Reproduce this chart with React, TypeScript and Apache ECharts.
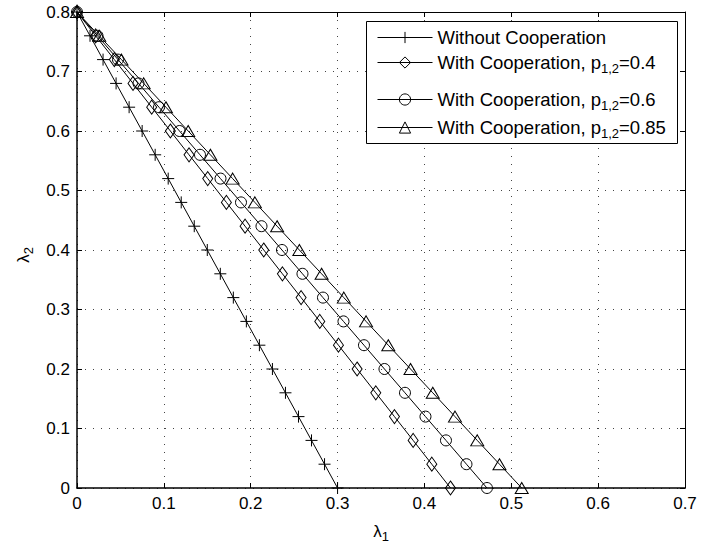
import React, { useEffect, useRef } from "react";
import * as echarts from "echarts";

const lambda2 = [0.8, 0.76, 0.72, 0.68, 0.64, 0.6, 0.56, 0.52, 0.48, 0.44, 0.4, 0.36, 0.32, 0.28, 0.24, 0.2, 0.16, 0.12, 0.08, 0.04, 0];
const withoutCoop = [0, 0.015, 0.03, 0.045, 0.06, 0.075, 0.09, 0.105, 0.12, 0.135, 0.15, 0.165, 0.18, 0.195, 0.21, 0.225, 0.24, 0.255, 0.27, 0.285, 0.3];
const coop04 = [0, 0.0215, 0.043, 0.0645, 0.086, 0.1075, 0.129, 0.1505, 0.172, 0.1935, 0.215, 0.2365, 0.258, 0.2795, 0.301, 0.3225, 0.344, 0.3655, 0.387, 0.4085, 0.43];
const coop06 = [0, 0.0236, 0.0472, 0.0708, 0.0944, 0.118, 0.1416, 0.1652, 0.1888, 0.2124, 0.236, 0.2596, 0.2832, 0.3068, 0.3304, 0.354, 0.3776, 0.4012, 0.4248, 0.4484, 0.472];
const coop085 = [0, 0.0256, 0.0512, 0.0768, 0.1024, 0.128, 0.1536, 0.1792, 0.2048, 0.2304, 0.256, 0.2816, 0.3072, 0.3328, 0.3584, 0.384, 0.4096, 0.4352, 0.4608, 0.4864, 0.512];

const seriesNames = [
  "Without Cooperation",
  "With Cooperation, p{sub|1,2}=0.4",
  "With Cooperation, p{sub|1,2}=0.6",
  "With Cooperation, p{sub|1,2}=0.85",
];
const xTicks = [0, 0.1, 0.2, 0.3, 0.4, 0.5, 0.6, 0.7];
const yTicks = [0, 0.1, 0.2, 0.3, 0.4, 0.5, 0.6, 0.7, 0.8];

const FONT = "Liberation Sans, Arial, Helvetica, sans-serif";
const FS = 17;

const plusPath = "path://M0,6H12M6,0V12";

export default function App() {
  const ref = useRef<HTMLDivElement>(null);
  useEffect(() => {
    if (!ref.current) return;
    const chart = echarts.init(ref.current, null, { renderer: "svg" });
    const zip = (xs: number[]) => xs.map((x, i) => [x, lambda2[i]]);
    const symbols: any[] = [plusPath, "diamond", "circle", "triangle"];
    const sizes: any[] = [[12, 12], [10, 14], [11, 11], [13, 11]];
    const datas = [withoutCoop, coop04, coop06, coop085];
    const rich = {
      sub: { fontSize: 13, fontFamily: FONT, color: "#000", padding: [11, 0, 0, 0] },
    };
    const legendTops = [28, 53, 90, 118];
    const option: any = {
      animation: false,
      backgroundColor: "#fff",
      grid: { left: 77, right: 16, top: 12, bottom: 56, containLabel: false },
      xAxis: [
        {
          type: "value",
          min: xTicks[0],
          max: xTicks[xTicks.length - 1],
          interval: 0.1,
          position: "bottom",
          name: "λ{sub|1}",
          nameLocation: "middle",
          nameGap: 31,
          nameTextStyle: { fontFamily: FONT, fontSize: FS, color: "#000", rich },
          axisLine: { show: true, lineStyle: { color: "#000", width: 1.5 } },
          axisTick: { show: true, inside: true, length: 5, lineStyle: { color: "#000" } },
          axisLabel: { fontFamily: FONT, fontSize: FS, color: "#000", margin: 7 },
          splitLine: { show: true, lineStyle: { type: [1, 7], color: "#444", width: 1 } },
        },
        {
          type: "value",
          min: xTicks[0],
          max: xTicks[xTicks.length - 1],
          interval: 0.1,
          position: "top",
          axisLine: { show: true, onZero: false, lineStyle: { color: "#000", width: 1 } },
          axisTick: { show: true, inside: true, length: 5, lineStyle: { color: "#000" } },
          axisLabel: { show: false },
          splitLine: { show: false },
        },
      ],
      yAxis: [
        {
          type: "value",
          min: yTicks[0],
          max: yTicks[yTicks.length - 1],
          interval: 0.1,
          position: "left",
          name: "λ{sub|2}",
          nameLocation: "middle",
          nameGap: 42,
          nameRotate: 90,
          nameTextStyle: { fontFamily: FONT, fontSize: FS, color: "#000", rich, padding: [0, 10, 0, 0] },
          axisLine: { show: true, lineStyle: { color: "#000", width: 1.5 } },
          axisTick: { show: true, inside: true, length: 5, lineStyle: { color: "#000" } },
          axisLabel: { fontFamily: FONT, fontSize: FS, color: "#000", margin: 7 },
          splitLine: { show: true, lineStyle: { type: [1, 7], color: "#444", width: 1 } },
        },
        {
          type: "value",
          min: yTicks[0],
          max: yTicks[yTicks.length - 1],
          interval: 0.1,
          position: "right",
          axisLine: { show: true, onZero: false, lineStyle: { color: "#000", width: 1 } },
          axisTick: { show: true, inside: true, length: 5, lineStyle: { color: "#000" } },
          axisLabel: { show: false },
          splitLine: { show: false },
        },
      ],
      legend: seriesNames.map((n, i) => ({
        data: [n],
        orient: "vertical",
        left: 377,
        top: legendTops[i],
        padding: 0,
        itemWidth: 55,
        itemHeight: 14,
        selectedMode: false,
        lineStyle: { width: 1, color: "#000" },
        itemStyle: { color: "rgba(0,0,0,0)", borderColor: "#000", borderWidth: 1 },
        textStyle: { fontFamily: FONT, fontSize: 18.5, color: "#000", rich },
      })),
      graphic: [
        {
          type: "rect",
          z: 3,
          shape: { x: 366.5, y: 21.5, width: 311, height: 122 },
          style: { fill: "#fff", stroke: "#000", lineWidth: 1 },
        },
      ],
      series: datas.map((d, i) => ({
        type: "line",
        name: seriesNames[i],
        data: zip(d),
        xAxisIndex: 0,
        yAxisIndex: 0,
        clip: false,
        symbol: symbols[i],
        symbolSize: sizes[i],
        showAllSymbol: true,
        lineStyle: { color: "#000", width: 1 },
        itemStyle: { color: "rgba(0,0,0,0)", borderColor: "#000", borderWidth: 1 },
        emphasis: { disabled: true },
        z: 5,
      })),
    };
    chart.setOption(option);
    return () => chart.dispose();
  }, []);
  return (
    <div
      ref={ref}
      style={{ position: "fixed", left: 0, top: 0, width: 701, height: 548 }}
    />
  );
}
